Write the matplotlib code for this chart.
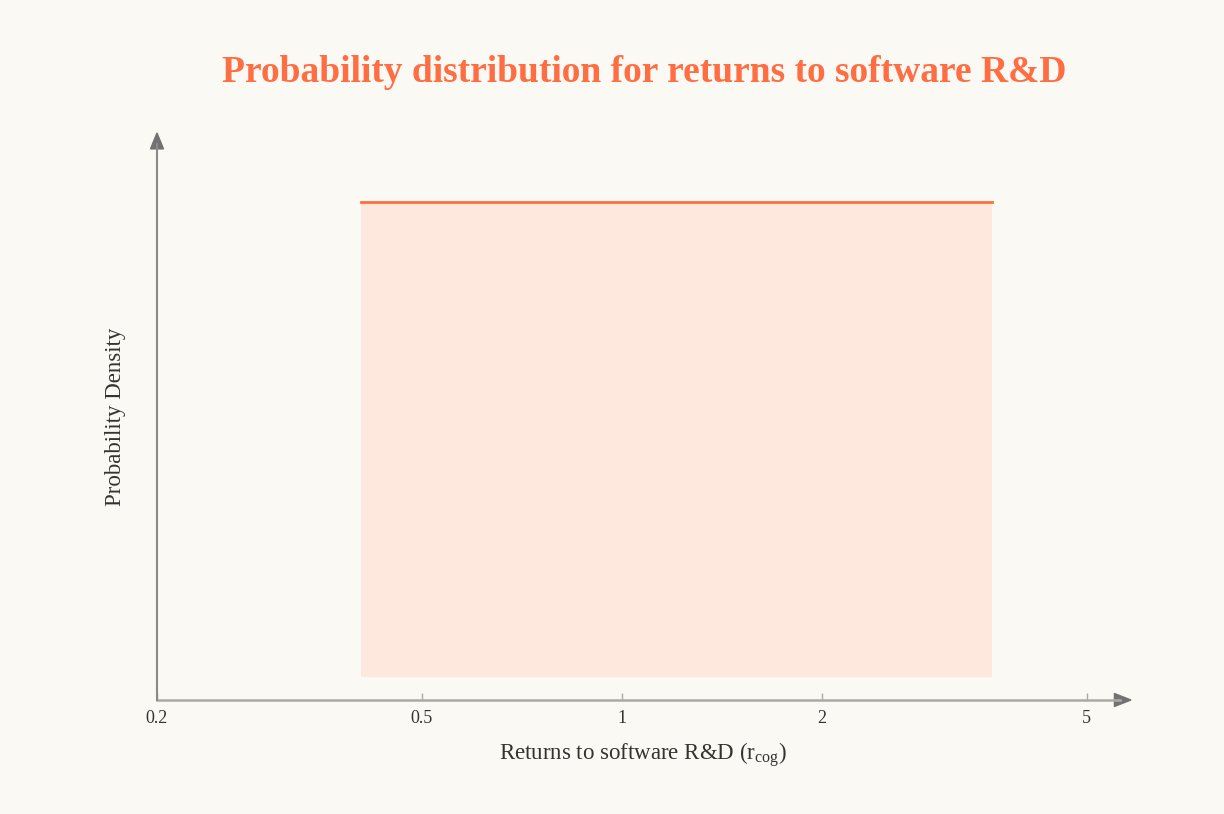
import numpy as np
import matplotlib
matplotlib.use("Agg")
import matplotlib.pyplot as plt
from matplotlib.patches import Polygon

plt.rcParams['font.family'] = ['Liberation Serif', 'DejaVu Serif']
plt.rcParams['mathtext.fontset'] = 'custom'
plt.rcParams['mathtext.rm'] = 'Liberation Serif'

# data: uniform distribution of r_cog
r_low = 0.405
r_high = 3.6
density = 1.0 / (r_high - r_low)
x_ticks = [0.2, 0.5, 1, 2, 5]
x_tick_labels = ["0.2", "0.5", "1", "2", "5"]

bg = "#fbf9f4"
accent = "#ff6e42"
fill_col = "#fee7dc"

fig = plt.figure(figsize=(12.24, 8.14), dpi=100, facecolor=bg)
W, H = 1224, 814
ax_w, ax_h = 1130 - 157, 700 - 133
ax = fig.add_axes([157 / W, (814 - 700) / H, ax_w / W, ax_h / H])
ax.set_facecolor(bg)

xs = np.array([r_low, r_high])
ys = np.array([density, density])
ax.fill_between(xs, 0, ys, color=fill_col, linewidth=0)
ax.plot(xs, ys, color=accent, linewidth=2)

ax.set_xscale('log')
ax.set_xlim(0.2, 0.2 * 10 ** (ax_w / 665))
ax.set_ylim(-23 / 475 * density, (677 - 133) / 475 * density)

ax.set_xticks(x_ticks)
ax.set_xticklabels(x_tick_labels)
ax.xaxis.set_minor_locator(matplotlib.ticker.NullLocator())
ax.tick_params(axis='x', direction='in', length=5, width=1, color='#aaaaa5',
               labelsize=13, labelcolor='#333333', pad=7)
ax.set_yticks([])

for s in ax.spines.values():
    s.set_visible(False)

# axis lines
ax.plot([0, 0.99], [0, 0], color='#aaaaa5', lw=1.8, transform=ax.transAxes, clip_on=False)
ax.plot([0, 0], [0, 0.98], color='#8a8a86', lw=1.5, transform=ax.transAxes, clip_on=False)
# arrow heads
hx = Polygon([[1.001, 0], [0.984, 6.5 / ax_h], [0.984, -6.5 / ax_h]], closed=True,
             color='#727272', transform=ax.transAxes, clip_on=False)
hy = Polygon([[0, 1.0], [-6.5 / ax_w, 0.972], [6.5 / ax_w, 0.972]], closed=True,
             color='#727272', transform=ax.transAxes, clip_on=False)
ax.add_patch(hx)
ax.add_patch(hy)

ax.set_xlabel("Returns to software R&D (r$_{\\mathrm{cog}}$)", fontsize=16.5,
              color='#333333', labelpad=10)
ax.set_ylabel("Probability Density", fontsize=16.5, color='#333333', labelpad=22)

fig.text(644 / W, 1 - 73 / H, "Probability distribution for returns to software R&D",
         ha='center', va='center', fontsize=27, fontweight='bold', color=accent)

fig.savefig("out.png", dpi=100, facecolor=bg)
